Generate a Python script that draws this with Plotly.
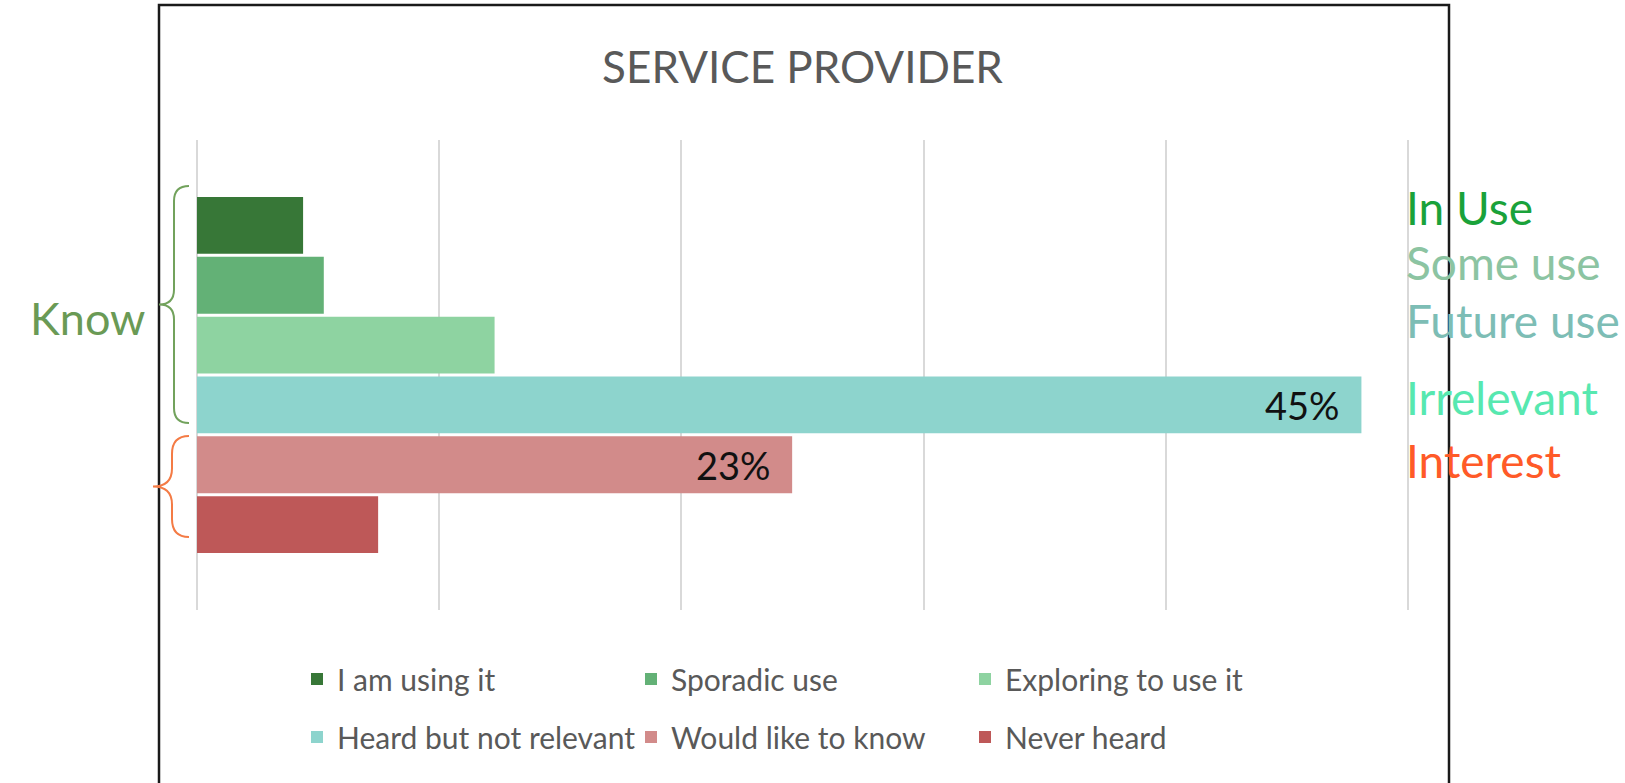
import plotly.graph_objects as go

# ---- data -------------------------------------------------------------
categories = ["I am using it", "Sporadic use", "Exploring to use it",
              "Heard but not relevant", "Would like to know", "Never heard"]
shares = [4.1, 4.9, 11.5, 45, 23, 7]          # percent of respondents
show_label = [False, False, False, True, True, False]

side_labels = ["In Use", "Some use", "Future use", "Irrelevant", "Interest"]
group_labels = ["Know"]

# ---- styling ----------------------------------------------------------
bar_colors = ["#377737", "#63B176", "#8ED3A1", "#8DD4CD", "#D28B8A", "#BE5858"]
side_colors = ["#1AA23A", "#8CC4A2", "#7DBDB5", "#57E8B0", "#FF5A28"]
side_y_px = [207, 262, 320, 397, 461]
FONT = "Lato, Calibri, Carlito, 'Open Sans', sans-serif"
GREY = "#595959"

W, H = 1625, 783
X_MAX = 46.8            # value at the last grid line
X_PAD = 0.116           # keeps the first/last grid lines inside the range
ML, MR, MT, MB = 194, 214, 140, 173
PW, PH = W - ML - MR, H - MT - MB
PX_PER_UNIT = PW / (X_MAX + 2 * X_PAD)


def fx(x):
    """pixel x -> paper x"""
    return (x - ML) / PW


def fy(y):
    """pixel y -> paper y"""
    return (H - MB - y) / PH


BARGAP = 0.236
GROUPGAP = 0.05

fig = go.Figure()
for i, (name, val, col) in enumerate(zip(categories, shares, bar_colors)):
    fig.add_trace(go.Bar(
        name=name, x=[val], y=[0], orientation="h",
        marker=dict(color=col, line=dict(width=0)),
        legend="legend" if i < 3 else "legend2",
        hoverinfo="name+x",
    ))

# value labels inside the bar ends
n = len(categories)
slot = (1 - BARGAP) / n
annotations = []
for i, (val, lab) in enumerate(zip(shares, show_label)):
    if not lab:
        continue
    yc = -(1 - BARGAP) / 2 + (i + 0.5) * slot
    annotations.append(dict(
        x=val, y=yc, xref="x", yref="y", text=f"{val}%", showarrow=False,
        xanchor="right", yanchor="middle", xshift=-19,
        font=dict(family=FONT, size=38, color="#111111"),
    ))

# side captions on the right
for txt, col, ypx in zip(side_labels, side_colors, side_y_px):
    annotations.append(dict(
        x=fx(1404), y=fy(ypx), xref="paper", yref="paper", text=txt,
        showarrow=False, xanchor="left", yanchor="middle",
        font=dict(family=FONT, size=46, color=col),
    ))

# group caption on the left
annotations.append(dict(
    x=fx(147), y=fy(318), xref="paper", yref="paper", text=group_labels[0],
    showarrow=False, xanchor="right", yanchor="middle",
    font=dict(family=FONT, size=45, color="#6A9A55"),
))


def brace_path(tip, mid, point, top, bot, r):
    ym = (top + bot) / 2
    pts = [
        ("M", [(tip, top)]),
        ("Q", [(mid, top), (mid, top + r)]),
        ("L", [(mid, ym - r)]),
        ("Q", [(mid, ym), (point, ym)]),
        ("Q", [(mid, ym), (mid, ym + r)]),
        ("L", [(mid, bot - r)]),
        ("Q", [(mid, bot), (tip, bot)]),
    ]
    out = []
    for cmd, coords in pts:
        out.append(cmd + " ".join(f"{fx(x):.5f},{fy(y):.5f}" for x, y in coords))
    return " ".join(out)


shapes = [
    # chart frame
    dict(type="rect", xref="paper", yref="paper",
         x0=fx(159), x1=fx(1449), y0=fy(820), y1=fy(5),
         line=dict(color="#1A1A1A", width=2.5), fillcolor="rgba(0,0,0,0)",
         layer="above"),
    dict(type="path", xref="paper", yref="paper",
         path=brace_path(189, 174, 159, 186, 423, 15),
         line=dict(color="#72A25C", width=2)),
    dict(type="path", xref="paper", yref="paper",
         path=brace_path(189, 172, 153, 436, 537, 18),
         line=dict(color="#F47B45", width=2)),
]

legend_common = dict(
    orientation="h", xanchor="left", yanchor="middle",
    entrywidth=289, entrywidthmode="pixels", traceorder="normal",
    font=dict(family=FONT, size=30, color=GREY),
    bgcolor="rgba(0,0,0,0)", itemclick=False, itemdoubleclick=False,
)

fig.update_layout(
    width=W, height=H,
    margin=dict(l=ML, r=MR, t=MT, b=MB),
    paper_bgcolor="white", plot_bgcolor="white",
    barmode="group", bargap=BARGAP, bargroupgap=GROUPGAP,
    title=dict(text="SERVICE PROVIDER", x=0.5, xref="paper", xanchor="center",
               y=1 - 68 / H, yref="container", yanchor="middle",
               font=dict(family=FONT, size=44, color=GREY)),
    xaxis=dict(range=[-X_PAD, X_MAX + X_PAD], tick0=0, dtick=X_MAX / 5,
               showticklabels=False, showgrid=True, gridcolor="#D9D9D9",
               gridwidth=1.5, zeroline=False, showline=False, ticks="",
               fixedrange=True),
    yaxis=dict(range=[0.5, -0.5], visible=False, showgrid=False,
               zeroline=False, fixedrange=True),
    legend=dict(x=fx(297), y=fy(679), **legend_common),
    legend2=dict(x=fx(297), y=fy(737), **legend_common),
    annotations=annotations,
    shapes=shapes,
    showlegend=True,
)

fig.write_html("out.html")
